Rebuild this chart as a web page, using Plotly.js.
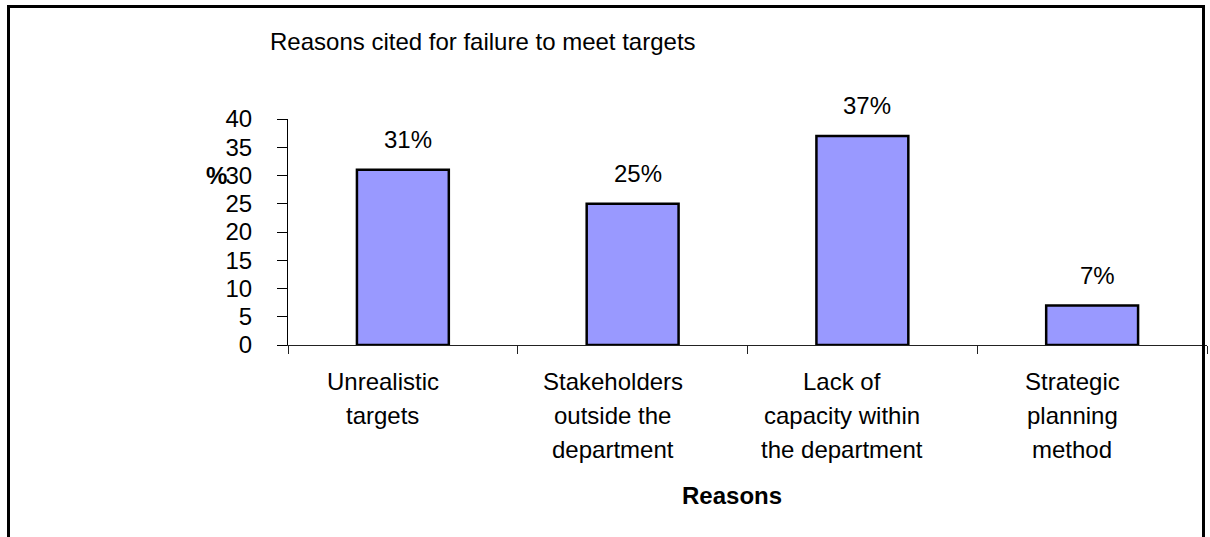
<!DOCTYPE html>
<html>
<head>
<meta charset="utf-8">
<script src="https://cdn.plot.ly/plotly-3.0.1.min.js"></script>
<style>
  html, body { margin: 0; padding: 0; background: #fff; overflow: hidden; }
  #wrap { position: relative; width: 1210px; height: 537px; }
  #chart { position: absolute; left: 0; top: 0; width: 1210px; height: 537px; }
  #frame { position: absolute; left: 7px; top: 5px; width: 1198px; height: 620px;
           border: 3px solid #000; box-sizing: border-box; pointer-events: none; }
</style>
</head>
<body>
<div id="wrap">
  <div id="chart"></div>
  <div id="frame"></div>
</div>
<script>
// ---- data ----
const categoryLines = [
  ['Unrealistic', 'targets'],
  ['Stakeholders', 'outside the', 'department'],
  ['Lack of', 'capacity within', 'the department'],
  ['Strategic', 'planning', 'method']
];
const categories = categoryLines.map(l => l.join(' '));
const values = [31, 25, 37, 7];
const valueLabels = ['31%', '25%', '37%', '7%'];
const yTicks = [0, 5, 10, 15, 20, 25, 30, 35, 40];
const chartTitle = 'Reasons cited for failure to meet targets';
const xTitle = 'Reasons';
const yTitle = '%';

// ---- style ----
const FONT = '"Liberation Sans", Arial, sans-serif';
const FS = 24;

const annotations = [];
// value labels
categories.forEach((c, i) => {
  annotations.push({
    x: c, y: values[i], xref: 'x', yref: 'y',
    text: valueLabels[i], showarrow: false,
    yanchor: 'middle', xanchor: 'center', yshift: 30, xshift: 5,
    font: {family: FONT, size: FS, color: '#000'}
  });
});
// category labels (multi-line, Excel-like line spacing)
categoryLines.forEach((lines, i) => {
  lines.forEach((t, k) => {
    annotations.push({
      x: categories[i], y: 0, xref: 'x', yref: 'y',
      text: t, showarrow: false,
      yanchor: 'middle', xanchor: 'center', yshift: -(36 + 34 * k), xshift: -20,
      font: {family: FONT, size: FS, color: '#000'}
    });
  });
});
// x axis title
annotations.push({
  x: 0.5, xref: 'paper', y: 0, yref: 'y', text: '<b>' + xTitle + '</b>', showarrow: false,
  xanchor: 'center', yanchor: 'middle', yshift: -150, xshift: -16,
  font: {family: FONT, size: FS, color: '#000'}
});
// y axis "title" (horizontal %)
annotations.push({
  x: 0, xref: 'paper', y: 30, yref: 'y', text: '<b>' + yTitle + '</b>', showarrow: false,
  xanchor: 'right', yanchor: 'middle', xshift: -59, yshift: 0,
  font: {family: FONT, size: FS, color: '#000'}
});

const trace = {
  type: 'bar',
  x: categories,
  y: values,
  marker: {color: '#9999FF', line: {color: '#000', width: 2.5}},
  hoverinfo: 'skip'
};

const layout = {
  width: 1210, height: 537,
  margin: {l: 288, r: 3, t: 119, b: 192, pad: 0},
  paper_bgcolor: '#fff', plot_bgcolor: '#fff',
  showlegend: false,
  bargap: 0.6,
  font: {family: FONT, size: FS, color: '#000'},
  title: {
    text: chartTitle,
    xref: 'container', yref: 'container',
    x: 270 / 1210, xanchor: 'left',
    y: 1 - 41.5 / 537, yanchor: 'middle',
    font: {family: FONT, size: FS, color: '#000'}
  },
  xaxis: {
    type: 'category',
    range: [-0.5, 3.5],
    showticklabels: false,
    ticks: 'outside', tickson: 'boundaries', ticklen: 8, tickwidth: 1, tickcolor: '#222',
    showline: true, linecolor: '#222', linewidth: 1,
    showgrid: false, zeroline: false, fixedrange: true, automargin: false
  },
  yaxis: {
    range: [0, 40],
    tickvals: yTicks, ticktext: yTicks.map(String),
    ticks: 'outside', ticklen: 10, tickwidth: 1, tickcolor: '#000',
    ticklabelstandoff: 20,
    tickfont: {family: FONT, size: FS, color: '#000'},
    showline: true, linecolor: '#000', linewidth: 1,
    showgrid: false, zeroline: false, fixedrange: true, automargin: false
  },
  annotations: annotations
};

Plotly.newPlot('chart', [trace], layout, {staticPlot: true, displayModeBar: false});
</script>
</body>
</html>
